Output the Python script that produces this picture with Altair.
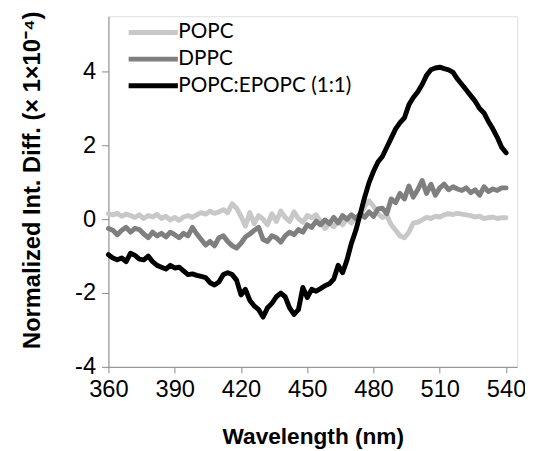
import altair as alt
import pandas as pd

wavelength = list(range(360, 541, 2))

popc = [0.15, 0.12, 0.16, 0.08, 0.14, 0.10, 0.05, 0.12, 0.02, 0.10,
        0.06, 0.13, 0.02, 0.08, -0.02, 0.05, -0.03, 0.06, 0.10, 0.05,
        0.12, 0.18, 0.14, 0.22, 0.16, 0.20, 0.26, 0.18, 0.42, 0.30,
        0.08, -0.18, 0.18, -0.12, 0.10, 0.00, -0.15, 0.15, -0.06, 0.22,
        0.05, -0.06, 0.20, 0.02, -0.08, 0.10, 0.04, 0.12, -0.05, -0.25,
        -0.12, -0.20, -0.05, -0.15, 0.02, -0.10, 0.05, 0.10, 0.35, 0.50,
        0.35, 0.15, 0.05, 0.10, -0.15, -0.30, -0.45, -0.50, -0.35, -0.10,
        -0.08, -0.02, 0.05, 0.02, 0.08, 0.06, 0.12, 0.15, 0.13, 0.16,
        0.14, 0.12, 0.10, 0.06, 0.08, 0.02, 0.04, 0.06, 0.02, 0.04, 0.04]

dppc = [-0.25, -0.30, -0.42, -0.30, -0.22, -0.35, -0.25, -0.28, -0.40, -0.50,
        -0.35, -0.45, -0.38, -0.48, -0.35, -0.42, -0.50, -0.38, -0.45, -0.22,
        -0.40, -0.55, -0.70, -0.60, -0.72, -0.50, -0.45, -0.60, -0.72, -0.78,
        -0.65, -0.48, -0.40, -0.30, -0.22, -0.55, -0.60, -0.45, -0.50, -0.62,
        -0.45, -0.35, -0.42, -0.28, -0.35, -0.15, -0.22, -0.05, -0.15, -0.02,
        -0.12, 0.05, -0.10, 0.10, 0.00, 0.12, 0.02, 0.15, 0.05, 0.20,
        0.08, 0.28, 0.30, 0.15, 0.55, 0.45, 0.70, 0.55, 0.90, 0.60,
        0.80, 1.05, 0.70, 0.95, 0.65, 0.85, 0.95, 0.80, 0.88, 0.82,
        0.78, 0.85, 0.72, 0.80, 0.65, 0.88, 0.75, 0.82, 0.78, 0.85, 0.85]

mix = [-0.96, -1.05, -1.10, -1.05, -1.15, -0.92, -0.98, -1.08, -1.10, -1.00,
       -1.15, -1.25, -1.30, -1.35, -1.25, -1.32, -1.30, -1.40, -1.50, -1.48,
       -1.52, -1.55, -1.58, -1.72, -1.78, -1.70, -1.50, -1.45, -1.50, -1.65,
       -2.05, -1.90, -2.20, -2.35, -2.45, -2.65, -2.40, -2.28, -2.10, -2.00,
       -2.10, -2.40, -2.58, -2.45, -1.85, -2.12, -1.90, -1.95, -1.88, -1.80,
       -1.75, -1.62, -1.25, -1.45, -1.10, -0.65, -0.30, 0.15, 0.60, 1.00,
       1.30, 1.55, 1.70, 1.95, 2.20, 2.45, 2.62, 2.75, 3.10, 3.30,
       3.45, 3.65, 3.90, 4.05, 4.10, 4.12, 4.08, 4.05, 3.98, 3.80,
       3.65, 3.50, 3.35, 3.20, 3.00, 2.88, 2.65, 2.45, 2.22, 1.95, 1.80]

series_names = ["POPC", "DPPC", "POPC:EPOPC (1:1)"]
series_colors = ["#c8c8c8", "#7f7f7f", "#000000"]
series_widths = [5, 5, 6]

rows = []
for name, vals in zip(series_names, [popc, dppc, mix]):
    for w, v in zip(wavelength, vals):
        rows.append({"Wavelength": w, "Value": v, "Series": name})
df = pd.DataFrame(rows)

FONT = "Lato"
hyphen_label = "datum.value < 0 ? '-' + abs(datum.value) : '' + datum.value"

chart = alt.Chart(df).mark_line(strokeJoin="round", strokeCap="round").encode(
    x=alt.X("Wavelength:Q",
            scale=alt.Scale(domain=[360, 545], nice=False, zero=False),
            axis=alt.Axis(values=[360, 390, 420, 450, 480, 510, 540],
                          title="Wavelength (nm)", grid=False, labelFlush=False,
                          labelFontSize=24, titleFontSize=23, titleFontWeight="bold",
                          labelPadding=5, tickSize=6, titlePadding=25)),
    y=alt.Y("Value:Q",
            scale=alt.Scale(domain=[-4, 5.5], nice=False, zero=False),
            axis=alt.Axis(values=[-4, -2, 0, 2, 4], title="Normalized Int. Diff. (× 1×10⁻⁴)",
                          grid=False, labelFontSize=24, titleFontSize=24,
                          titleFontWeight="bold", labelPadding=6, tickSize=7,
                          titlePadding=31, titleY=166, labelExpr=hyphen_label)),
    color=alt.Color("Series:N",
                    scale=alt.Scale(domain=series_names, range=series_colors),
                    sort=series_names,
                    legend=alt.Legend(title=None, orient="none", legendX=33, legendY=4,
                                      symbolType="M-2.5,0H2.5", symbolSize=400,
                                      symbolStrokeWidth=5, labelFontSize=21,
                                      labelOffset=13, rowPadding=4, labelFont=FONT,
                                      labelLimit=400)),
    strokeWidth=alt.StrokeWidth("Series:N",
                                scale=alt.Scale(domain=series_names, range=series_widths),
                                legend=None),
    order=alt.Order("Wavelength:Q"),
).properties(
    width=415, height=356,
    padding={"left": 102, "top": 5, "right": 8, "bottom": 80},
    autosize="none",
).configure_view(stroke=None).configure_axis(
    labelFont=FONT, titleFont=FONT, labelColor="#000", titleColor="#000",
    domainColor="#000", tickColor="#000", domainWidth=1.5, tickWidth=1.5,
).configure(background="white")

chart.save("out.html", embed_options={"renderer": "svg", "actions": False})
